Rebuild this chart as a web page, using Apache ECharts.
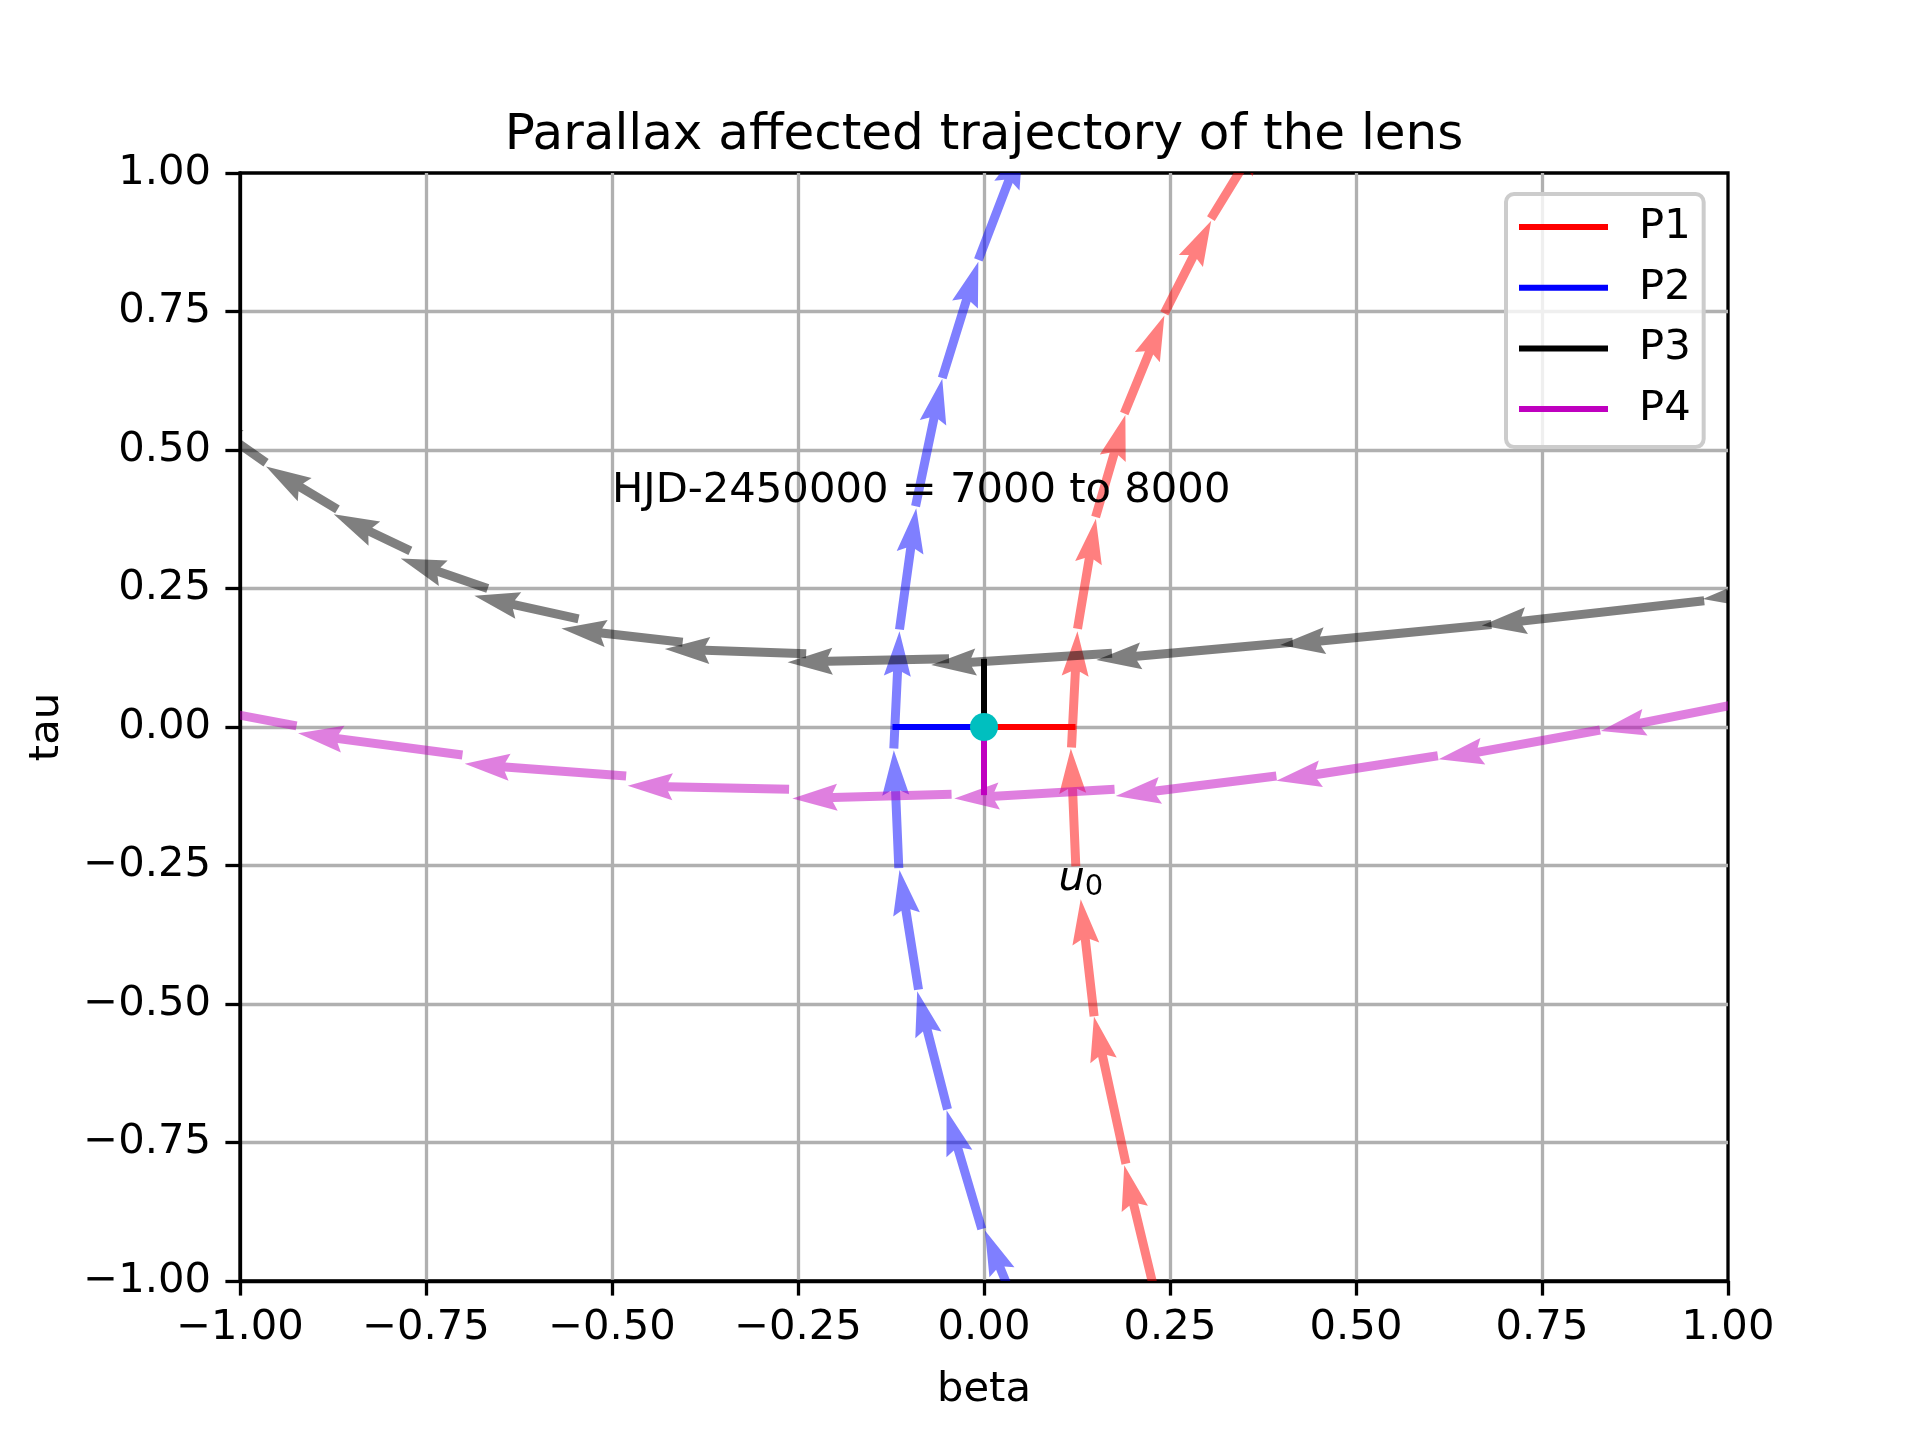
<!DOCTYPE html>
<html>
<head>
<meta charset="utf-8">
<title>Parallax affected trajectory of the lens</title>
<script src="https://cdn.jsdelivr.net/npm/echarts@6/dist/echarts.min.js"></script>
<style>
  html, body { margin: 0; padding: 0; background: #fff; }
  #main { width: 1920px; height: 1440px; }
</style>
</head>
<body>
<div id="main"></div>
<script>
// quiver rows: [beta, tau, dBeta, dTau] -> arrow from (beta, tau) to (beta+dBeta, tau+dTau)
const p1Arrows = [
  [0.2385, -1.070, -0.050, 0.279],
  [0.1908, -0.7885, -0.043, 0.266],
  [0.148, -0.522, -0.018, 0.211],
  [0.1234, -0.2514, -0.0067, 0.2127],
  [0.1176, -0.037, 0.008, 0.210],
  [0.1257, 0.1773, 0.0247, 0.1986],
  [0.150, 0.379, 0.040, 0.184],
  [0.1885, 0.566, 0.054, 0.177],
  [0.2424, 0.7466, 0.063, 0.167],
  [0.305, 0.9175, 0.072, 0.158]
];
const p2Arrows = [
  [0.0663, -1.123, -0.065, 0.214],
  [-0.003, -0.906, -0.0473, 0.214],
  [-0.049, -0.690, -0.0408, 0.213],
  [-0.088, -0.474, -0.0256, 0.216],
  [-0.1145, -0.2547, -0.0067, 0.2128],
  [-0.1212, -0.0387, 0.0076, 0.2115],
  [-0.1136, 0.176, 0.0225, 0.219],
  [-0.092, 0.3985, 0.0359, 0.230],
  [-0.0561, 0.630, 0.0485, 0.210],
  [-0.0076, 0.843, 0.060, 0.210]
];
const p3Arrows = [
  [1.273, 0.278, -0.307, -0.047],
  [0.968, 0.228, -0.299, -0.045],
  [0.682, 0.185, -0.284, -0.037],
  [0.415, 0.153, -0.264, -0.032],
  [0.172, 0.133, -0.243, -0.021],
  [-0.047, 0.123, -0.217, -0.006],
  [-0.239, 0.132, -0.190, 0.009],
  [-0.405, 0.153, -0.163, 0.025],
  [-0.545, 0.195, -0.140, 0.042],
  [-0.667, 0.250, -0.117, 0.054],
  [-0.771, 0.318, -0.103, 0.066],
  [-0.869, 0.393, -0.096, 0.077],
  [-0.965, 0.477, -0.090, 0.085]
];
const p4Arrows = [
  [1.045, 0.050, -0.216, -0.057],
  [0.828, -0.0054, -0.217, -0.053],
  [0.610, -0.0518, -0.217, -0.045],
  [0.393, -0.0884, -0.216, -0.036],
  [0.1755, -0.1125, -0.2155, -0.0165],
  [-0.0436, -0.1215, -0.214, -0.0075],
  [-0.262, -0.1125, -0.217, 0.0065],
  [-0.481, -0.0885, -0.217, 0.022],
  [-0.701, -0.0505, -0.221, 0.039],
  [-0.924, 0.002, -0.218, 0.055]
];

// impact parameter segments from the origin
const origin = [0, 0];
const u0 = 0.123;
const p1U0 = [origin, [u0, 0]];
const p2U0 = [origin, [-u0, 0]];
const p3U0 = [origin, [0, u0]];
const p4U0 = [origin, [0, -u0]];

const axisMin = -1, axisMax = 1, tickStep = 0.25;
const noteText = 'HJD-2450000 = 7000 to 8000';
const notePos = [-0.5, 0.4];
const u0LabelPos = [0.1, -0.3];

const FONT = 'DejaVu Sans';
const FS = 41.7;

let chart = echarts.init(document.getElementById('main'));

function fmt(v) {
  return v.toFixed(2).replace('-', '\u2212');
}

// matplotlib-like quiver arrow: shaft + barbed head
function arrowSeries(rows, color) {
  return {
    type: 'custom',
    data: rows,
    clip: true,
    silent: true,
    z: 2,
    encode: { x: 0, y: 1 },
    renderItem: function (params, api) {
      let a = api.coord([api.value(0), api.value(1)]);
      let b = api.coord([api.value(0) + api.value(2), api.value(1) + api.value(3)]);
      let dx = b[0] - a[0], dy = b[1] - a[1];
      let len = Math.sqrt(dx * dx + dy * dy);
      let ux = dx / len, uy = dy / len;
      let w = 9;
      let shape = [
        [0, -w / 2], [len - 4.5 * w, -w / 2], [len - 5 * w, -1.5 * w], [len, 0],
        [len - 5 * w, 1.5 * w], [len - 4.5 * w, w / 2], [0, w / 2]
      ];
      let pts = shape.map(function (p) {
        return [a[0] + p[0] * ux - p[1] * uy, a[1] + p[0] * uy + p[1] * ux];
      });
      return { type: 'polygon', shape: { points: pts }, style: { fill: color } };
    }
  };
}

function u0Series(name, data, color) {
  return {
    type: 'line',
    name: name,
    data: data,
    color: color,
    symbol: 'none',
    silent: true,
    z: 4,
    lineStyle: { color: color, width: 6 }
  };
}

// invisible point carrying a text label anchored at its data position
function noteSeries(pos, label) {
  return {
    type: 'scatter',
    data: [pos],
    symbolSize: 1,
    silent: true,
    z: 6,
    itemStyle: { color: 'rgba(0,0,0,0)', opacity: 1 },
    label: Object.assign({
      show: true, position: 'inside', align: 'left', verticalAlign: 'middle', offset: [0, -14],
      opacity: 1, fontFamily: FONT, fontSize: FS, color: '#000'
    }, label)
  };
}

let textStyle = { fontFamily: FONT, fontSize: FS, color: '#000', lineHeight: 42 };

let axisCommon = {
  type: 'value',
  min: axisMin,
  max: axisMax,
  interval: tickStep,
  nameLocation: 'middle',
  nameTextStyle: textStyle,
  axisLine: { show: true, onZero: false, lineStyle: { color: '#000', width: 3.3 } },
  axisTick: { show: true, length: 14.6, lineStyle: { color: '#000', width: 3.3 } },
  splitLine: { show: true, showMinLine: false, showMaxLine: false, lineStyle: { color: '#b0b0b0', width: 3.3 } }
};

chart.setOption({
  animation: false,
  backgroundColor: '#fff',
  title: {
    text: 'Parallax affected trajectory of the lens',
    left: 984,
    top: 111,
    textAlign: 'center',
    padding: 0,
    textStyle: { fontFamily: FONT, fontSize: 50, fontWeight: 'normal', color: '#000', lineHeight: 50 }
  },
  grid: {
    left: 240, right: 192, top: 173, bottom: 159,
    show: true, borderColor: '#000', borderWidth: 3.3, backgroundColor: 'transparent',
    containLabel: false, outerBoundsMode: 'none'
  },
  legend: {
    data: ['P1', 'P2', 'P3', 'P4'],
    orient: 'vertical',
    left: 1506,
    top: 194,
    padding: [12, 13, 17, 13],
    itemGap: 18.7,
    itemWidth: 89,
    itemHeight: 6,
    icon: 'rect',
    selectedMode: false,
    backgroundColor: 'rgba(255,255,255,0.8)',
    borderColor: '#cccccc',
    borderWidth: 4,
    borderRadius: 8,
    formatter: function (n) { return '{t|' + n + '}'; },
    textStyle: {
      fontFamily: FONT, fontSize: FS, color: '#000', lineHeight: 42,
      rich: { t: { padding: [0, 0, 0, 26], fontFamily: FONT, fontSize: FS, color: '#000', lineHeight: 42 } }
    }
  },
  xAxis: Object.assign({}, axisCommon, {
    name: 'beta',
    nameGap: 88,
    axisLabel: Object.assign({ margin: 26, formatter: fmt, showMinLabel: true, showMaxLabel: true }, textStyle)
  }),
  yAxis: Object.assign({}, axisCommon, {
    name: 'tau',
    nameRotate: 90,
    nameGap: 172,
    axisLabel: Object.assign({ margin: 29, formatter: fmt, showMinLabel: true, showMaxLabel: true }, textStyle)
  }),
  series: [
    arrowSeries(p1Arrows, 'rgba(255,0,0,0.5)'),
    arrowSeries(p2Arrows, 'rgba(0,0,255,0.5)'),
    arrowSeries(p3Arrows, 'rgba(0,0,0,0.5)'),
    arrowSeries(p4Arrows, 'rgba(191,0,191,0.5)'),
    u0Series('P1', p1U0, '#ff0000'),
    u0Series('P2', p2U0, '#0000ff'),
    u0Series('P3', p3U0, '#000000'),
    u0Series('P4', p4U0, '#bf00bf'),
    {
      type: 'scatter',
      data: [origin],
      symbolSize: 28,
      silent: true,
      z: 5,
      itemStyle: { color: '#00bfbf', opacity: 1 }
    },
    noteSeries(notePos, { formatter: noteText }),
    noteSeries(u0LabelPos, {
      formatter: '{u|u}{s|0}',
      rich: {
        u: { fontFamily: FONT, fontSize: FS, fontStyle: 'italic', color: '#000' },
        s: { fontFamily: FONT, fontSize: 29, color: '#000', padding: [16, 0, 0, 0] }
      }
    })
  ]
});

window.onresize = function () {
  chart.resize();
};
</script>
</body>
</html>
